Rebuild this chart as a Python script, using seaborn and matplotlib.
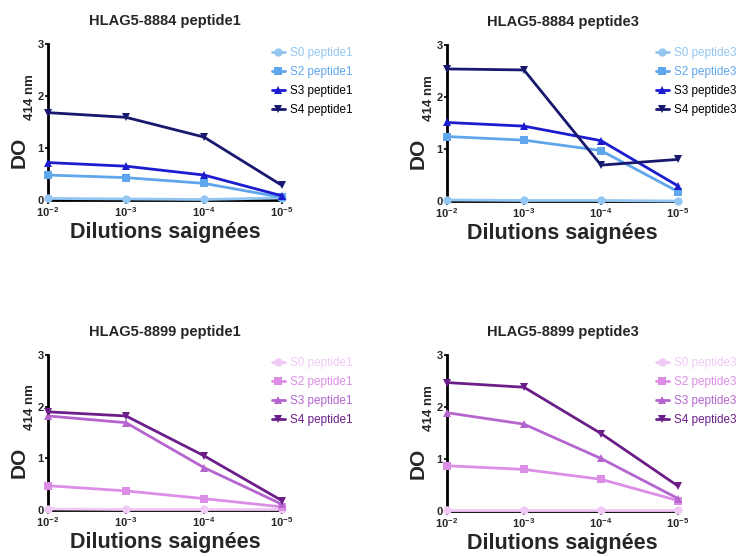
import pandas as pd
import seaborn as sns
import matplotlib.pyplot as plt

# dilutions (position sur l'axe x) et étiquettes
dilutions = [0, 1, 2, 3]
dilution_labels = [r"$\mathbf{10^{-2}}$", r"$\mathbf{10^{-3}}$", r"$\mathbf{10^{-4}}$", r"$\mathbf{10^{-5}}$"]

# HLAG5-8884 peptide1
p8884_1_S0 = [0.03, 0.02, 0.01, 0.04]
p8884_1_S2 = [0.48, 0.43, 0.32, 0.05]
p8884_1_S3 = [0.72, 0.65, 0.48, 0.08]
p8884_1_S4 = [1.68, 1.59, 1.21, 0.28]

# HLAG5-8884 peptide3
p8884_3_S0 = [0.02, 0.01, 0.01, 0.0]
p8884_3_S2 = [1.24, 1.17, 0.97, 0.18]
p8884_3_S3 = [1.51, 1.44, 1.16, 0.29]
p8884_3_S4 = [2.54, 2.52, 0.69, 0.80]

# HLAG5-8899 peptide1
p8899_1_S0 = [0.02, 0.01, 0.01, 0.01]
p8899_1_S2 = [0.47, 0.37, 0.22, 0.06]
p8899_1_S3 = [1.82, 1.69, 0.82, 0.11]
p8899_1_S4 = [1.90, 1.82, 1.05, 0.18]

# HLAG5-8899 peptide3
p8899_3_S0 = [0.01, 0.01, 0.01, 0.01]
p8899_3_S2 = [0.87, 0.80, 0.61, 0.20]
p8899_3_S3 = [1.89, 1.67, 1.01, 0.24]
p8899_3_S4 = [2.47, 2.38, 1.49, 0.48]

series_names = ["S0", "S2", "S3", "S4"]
markers = {"S0": "o", "S2": "s", "S3": "^", "S4": "v"}
blues = ["#93C6F2", "#5FA6EC", "#1C1CCF", "#17186E"]
blue_text = ["#93C6F2", "#5FA6EC", "#000000", "#000000"]
purples = ["#F1C9F5", "#DC8EE6", "#B565CE", "#6C1E88"]
purple_text = purples

# (titre, peptide, valeurs, couleurs, couleurs texte, rect axes en px, coin légende en px)
panels = [
    ("HLAG5-8884 peptide1", "peptide1", [p8884_1_S0, p8884_1_S2, p8884_1_S3, p8884_1_S4], blues, blue_text,
     (48, 44, 234, 156), (272, 47)),
    ("HLAG5-8884 peptide3", "peptide3", [p8884_3_S0, p8884_3_S2, p8884_3_S3, p8884_3_S4], blues, blue_text,
     (447, 45, 231, 156), (656, 47)),
    ("HLAG5-8899 peptide1", "peptide1", [p8899_1_S0, p8899_1_S2, p8899_1_S3, p8899_1_S4], purples, purple_text,
     (48, 355, 234, 155), (272, 357)),
    ("HLAG5-8899 peptide3", "peptide3", [p8899_3_S0, p8899_3_S2, p8899_3_S3, p8899_3_S4], purples, purple_text,
     (447, 355, 231, 156), (656, 357)),
]

W, H = 740, 557

sns.set_style("ticks")
plt.rcParams["font.family"] = ["Liberation Sans", "DejaVu Sans"]
plt.rcParams["mathtext.fontset"] = "custom"
plt.rcParams["mathtext.rm"] = "Liberation Sans"
plt.rcParams["mathtext.bf"] = "Liberation Sans:bold"

fig = plt.figure(figsize=(W / 100, H / 100), dpi=100)

for title, pep, values, colors, text_colors, (px, py, pw, ph), leg_xy in panels:
    ax = fig.add_axes([px / W, 1 - (py + ph) / H, pw / W, ph / H])
    rows = []
    for name, vals in zip(series_names, values):
        for x, v in zip(dilutions, vals):
            rows.append({"dilution": x, "DO": v, "serie": f"{name} {pep}"})
    df = pd.DataFrame(rows)
    order = [f"{n} {pep}" for n in series_names]
    palette = dict(zip(order, colors))
    mk = {f"{n} {pep}": markers[n] for n in series_names}
    sns.lineplot(data=df, x="dilution", y="DO", hue="serie", style="serie",
                 hue_order=order, style_order=order, palette=palette,
                 markers=mk, dashes=False, linewidth=2, markersize=6,
                 markeredgewidth=0, ax=ax, zorder=3, clip_on=False)

    ax.set_xlim(0, 3)
    ax.set_ylim(0, 3)
    ax.set_yticks([0, 1, 2, 3])
    ax.set_yticklabels(["0", "1", "2", "3"], fontweight="bold", fontsize=8)
    ax.set_xticks(dilutions)
    ax.set_xticklabels(dilution_labels, fontsize=8)
    ax.tick_params(axis="x", length=3, width=1.5, pad=1)
    ax.tick_params(axis="y", length=2, width=1.5, pad=1)
    for s in ["left", "bottom"]:
        ax.spines[s].set_linewidth(2)
        ax.spines[s].set_color("black")
    sns.despine(ax=ax)

    ax.set_title(title, fontsize=10.5, fontweight="bold", pad=14)
    ax.set_xlabel("Dilutions saignées", fontsize=15.5, fontweight="bold", labelpad=2)

    # "DO" + indice "414 nm" décalé, comme dans l'original
    ax.set_ylabel("DO", fontsize=15, fontweight="bold")
    ax.yaxis.set_label_coords(-19 / pw, 0.5 - 30 / ph)
    ax.text(-18 / pw, 0.5 + 25 / ph, "414 nm", transform=ax.transAxes, rotation=90,
            ha="center", va="center", fontsize=9.5, fontweight="bold")

    leg = ax.legend(loc="upper left", bbox_to_anchor=(leg_xy[0] / W, 1 - leg_xy[1] / H),
                    bbox_transform=fig.transFigure, frameon=False,
                    fontsize=8.5, handlelength=1.1, handletextpad=0.45,
                    labelspacing=0.6, borderaxespad=0, borderpad=0)
    for txt, c in zip(leg.get_texts(), text_colors):
        txt.set_color(c)

fig.savefig("out.png", dpi=100)
